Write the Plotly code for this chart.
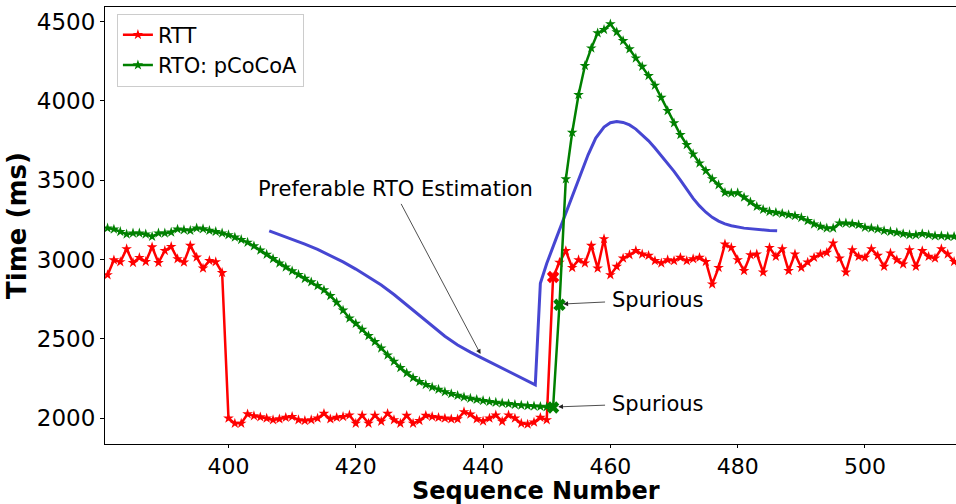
import plotly.graph_objects as go

# ---------------- data ----------------
rtt_seq = list(range(381, 516))
rtt_ms = [
    # 381-399
    2903, 2997, 2985, 3067, 2980, 3012, 2987, 3079, 2980, 3056,
    3081, 3004, 2983, 3088, 3014, 2945, 2993, 2985, 2917,
    # 400-450
    2000, 1968, 1968, 2027, 2015, 2008, 2000, 1990, 1995, 2005,
    2010, 1990, 1985, 1990, 2000, 2030, 1995, 2005, 2010, 2020,
    1968, 2018, 1968, 2018, 1980, 2030, 1990, 1968, 2017, 1968,
    1985, 2017, 2010, 2005, 2000, 1995, 1995, 2040, 2025, 1995,
    1982, 2000, 2020, 1980, 2020, 2000, 1968, 1962, 1975, 2005,
    1990,
    # 451-515
    2890, 2982, 3055, 2949, 2998, 2977, 3088, 2945, 3130, 2903,
    2956, 3008, 3029, 3056, 3034, 3025, 2992, 2977, 2998, 2992,
    3013, 2992, 3004, 3013, 2987, 2845, 2949, 3097, 3075, 2998,
    2929, 3029, 3034, 2920, 3075, 3019, 3067, 2929, 3034, 2949,
    2983, 3013, 3034, 3044, 3103, 3008, 2920, 3061, 3019, 3013,
    3067, 3025, 2956, 3040, 2998, 2971, 3061, 2956, 3055, 3019,
    3008, 3067, 3034, 2987, 2950,
]

rto_seq = list(range(381, 516))
rto_ms = [
    # 381-399
    3198, 3191, 3176, 3160, 3166, 3166, 3160, 3145, 3166, 3166,
    3172, 3191, 3187, 3183, 3198, 3193, 3183, 3176, 3166,
    # 400-450
    3155, 3140, 3125, 3108, 3085, 3058, 3032, 3005, 2977, 2952,
    2928, 2905, 2880, 2858, 2835, 2808, 2772, 2730, 2680, 2630,
    2597, 2560, 2520, 2482, 2442, 2398, 2358, 2318, 2285, 2255,
    2230, 2212, 2196, 2182, 2166, 2154, 2143, 2133, 2125, 2118,
    2111, 2105, 2100, 2095, 2091, 2086, 2082, 2079, 2076, 2074,
    2072,
    # 451-515
    2068, 2715, 3507, 3800, 4038, 4221, 4332, 4427, 4448, 4484,
    4433, 4378, 4326, 4269, 4216, 4158, 4097, 4021, 3937, 3860,
    3786, 3723, 3664, 3607, 3559, 3508, 3470, 3422, 3418, 3420,
    3392, 3362, 3334, 3315, 3302, 3296, 3290, 3282, 3276, 3264,
    3244, 3223, 3208, 3198, 3198, 3229, 3229, 3225, 3219, 3202,
    3198, 3191, 3181, 3176, 3170, 3162, 3155, 3155, 3162, 3155,
    3149, 3149, 3145, 3145, 3142,
]

pref_seq = [406.4, 408, 410, 412, 414, 416, 418, 420, 422, 424, 426, 428, 430,
            432, 434, 436, 437.3, 438, 440, 442, 444, 446, 448.2,
            449, 450, 451.4, 452.2, 453.5, 455.1, 456.5, 457.7, 459, 460, 461,
            462, 463, 464, 465, 466, 467, 468, 469, 470, 471, 471.5, 472, 473,
            474, 475, 476, 477, 478, 479, 481, 483, 485, 486.2]
pref_ms = [3181, 3158, 3128, 3097, 3064, 3027, 2985, 2940, 2892, 2840, 2780,
           2715, 2645, 2580, 2517, 2462, 2431, 2417, 2376, 2336, 2295, 2255,
           2210,
           2851, 2975, 3124, 3208, 3350, 3523, 3660, 3765, 3835, 3862, 3870,
           3864, 3848, 3822, 3788, 3748, 3703, 3656, 3607, 3556, 3500, 3470,
           3440, 3385, 3338, 3298, 3266, 3242, 3225, 3213, 3198, 3189, 3183,
           3181]

spur_rtt_seq = [451]
spur_rtt_ms = [2890]
spur_rto_seq = [451, 452]
spur_rto_ms = [2068, 2715]

x_ticks = [400, 420, 440, 460, 480, 500]
y_ticks = [2000, 2500, 3000, 3500, 4000, 4500]

RED = "#ff0000"
GREEN = "#008000"
BLUE = "#4646d2"
FONT = "DejaVu Sans"

fig = go.Figure()
fig.add_trace(go.Scatter(
    x=pref_seq, y=pref_ms, mode="lines", showlegend=False,
    line=dict(color=BLUE, width=3), hoverinfo="skip"))
fig.add_trace(go.Scatter(
    x=rtt_seq, y=rtt_ms, mode="lines+markers", name="RTT",
    line=dict(color=RED, width=2.5),
    marker=dict(symbol="star", size=8, color=RED, line=dict(width=0))))
fig.add_trace(go.Scatter(
    x=rto_seq, y=rto_ms, mode="lines+markers", name="RTO: pCoCoA",
    line=dict(color=GREEN, width=2.5),
    marker=dict(symbol="star", size=8, color=GREEN, line=dict(width=0))))
fig.add_trace(go.Scatter(
    x=spur_rtt_seq, y=spur_rtt_ms, mode="markers", showlegend=False,
    marker=dict(symbol="x", size=11, color=RED, line=dict(width=0))))
fig.add_trace(go.Scatter(
    x=spur_rto_seq, y=spur_rto_ms, mode="markers", showlegend=False,
    marker=dict(symbol="x", size=11, color=GREEN, line=dict(width=0))))

ann_font = dict(family=FONT, size=21, color="black")
annotations = [
    dict(x=426.3, y=3445, xref="x", yref="y", text="Preferable RTO Estimation",
         showarrow=False, font=ann_font, xanchor="center", yanchor="middle"),
    dict(x=439.6, y=2405, ax=427.0, ay=3360, xref="x", yref="y", axref="x", ayref="y",
         text="", showarrow=True, arrowhead=2, arrowsize=1.2, arrowwidth=0.8,
         arrowcolor="#222222"),
    dict(x=459.9, y=2746, xref="x", yref="y", text="Spurious", showarrow=False,
         font=ann_font, xanchor="left", yanchor="middle"),
    dict(x=452.6, y=2720, ax=459.4, ay=2733, xref="x", yref="y", axref="x", ayref="y",
         text="", showarrow=True, arrowhead=2, arrowsize=1.2, arrowwidth=0.8,
         arrowcolor="#222222"),
    dict(x=459.9, y=2092, xref="x", yref="y", text="Spurious", showarrow=False,
         font=ann_font, xanchor="left", yanchor="middle"),
    dict(x=451.8, y=2072, ax=459.4, ay=2083, xref="x", yref="y", axref="x", ayref="y",
         text="", showarrow=True, arrowhead=2, arrowsize=1.2, arrowwidth=0.8,
         arrowcolor="#222222"),
    # x-axis title
    dict(x=0.507, y=-0.108, xref="paper", yref="paper",
         text="<b>Sequence Number</b>", showarrow=False,
         font=dict(family=FONT, size=24, color="black"),
         xanchor="center", yanchor="middle"),
]

fig.update_layout(
    width=956, height=504,
    margin=dict(l=105, r=0, t=7, b=60),
    plot_bgcolor="white", paper_bgcolor="white",
    font=dict(family=FONT, color="black"),
    annotations=annotations,
    legend=dict(x=0.014, y=0.985, xanchor="left", yanchor="top",
                bgcolor="white", bordercolor="#cccccc", borderwidth=1,
                font=dict(family=FONT, size=21), tracegroupgap=0),
    xaxis=dict(range=[380.6, 514.3], tickvals=x_ticks, ticks="outside", ticklen=3,
               tickcolor="black", showline=True, linecolor="black", linewidth=1,
               mirror=True, showgrid=False, zeroline=False, automargin=False,
               tickfont=dict(family=FONT, size=22)),
    yaxis=dict(range=[1838, 4591], tickvals=y_ticks, ticks="outside", ticklen=4,
               tickcolor="black", showline=True, linecolor="black", linewidth=1,
               mirror=True, showgrid=False, zeroline=False, automargin=False,
               tickfont=dict(family=FONT, size=23),
               title=dict(text="<b>Time (ms)</b>",
                          font=dict(family=FONT, size=26), standoff=2)),
)

fig.write_html("out.html")
